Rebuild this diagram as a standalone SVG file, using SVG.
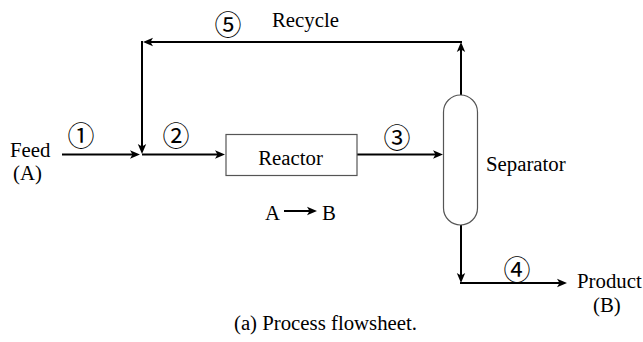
<svg xmlns="http://www.w3.org/2000/svg" width="643" height="342" viewBox="0 0 643 342">
<style>
.t{font-family:"Liberation Serif","Times New Roman",serif;font-size:20.8px;fill:#000}
.n{font-family:"Noto Sans CJK JP","DejaVu Sans",sans-serif;font-size:27px;fill:#000;text-anchor:middle;dominant-baseline:central}
.c{fill:none;stroke:#000;stroke-width:2}
.u{fill:#fff;stroke:#555;stroke-width:1.2}
</style>
<defs>
<marker id="ah" viewBox="0 0 10 10" refX="6" refY="5" markerWidth="10" markerHeight="10" markerUnits="userSpaceOnUse" orient="auto">
<path d="M0,0.8 L10,5 L0,9.2 L2.5,5 z" fill="#000"/>
</marker>
</defs>
<rect width="643" height="342" fill="#fff"/>
<g id="connectors">
<line class="c" x1="62" y1="154.5" x2="136" y2="154.5" marker-end="url(#ah)"/>
<line class="c" x1="142" y1="154.5" x2="221" y2="154.5" marker-end="url(#ah)"/>
<line class="c" x1="357" y1="154.5" x2="439" y2="154.5" marker-end="url(#ah)"/>
<line class="c" x1="461" y1="95" x2="461" y2="46" marker-end="url(#ah)"/>
<line class="c" x1="462" y1="42" x2="147" y2="42" marker-end="url(#ah)"/>
<line class="c" x1="142" y1="41" x2="142" y2="150" marker-end="url(#ah)"/>
<line class="c" x1="461" y1="225" x2="461" y2="279" marker-end="url(#ah)"/>
<line class="c" x1="460" y1="283" x2="563" y2="283" marker-end="url(#ah)"/>
</g>
<g id="feed">
<text class="t" x="10" y="157">Feed</text>
<text class="t" x="13" y="180">(A)</text>
</g>
<g id="reactor">
<rect class="u" x="226" y="134.5" width="131" height="41"/>
<text class="t" x="290.5" y="165" text-anchor="middle">Reactor</text>
</g>
<g id="reaction">
<text class="t" x="265" y="220">A</text>
<line class="c" x1="284" y1="211" x2="313" y2="211" marker-end="url(#ah)"/>
<text class="t" x="322" y="220">B</text>
</g>
<g id="separator">
<rect class="u" x="443.5" y="95" width="34" height="130" rx="17" ry="17"/>
<text class="t" x="486" y="170.5">Separator</text>
</g>
<g id="product">
<text class="t" x="577" y="288">Product</text>
<text class="t" x="593" y="312">(B)</text>
</g>
<g id="recycle">
<text class="t" x="272" y="27">Recycle</text>
</g>
<g id="labels">
<text class="n" x="81" y="134.5">①</text>
<text class="n" x="176" y="134.5">②</text>
<text class="n" x="397" y="136">③</text>
<text class="n" x="517" y="268">④</text>
<text class="n" x="228" y="23">⑤</text>
</g>
<g id="caption">
<text class="t" x="325.5" y="330" text-anchor="middle">(a) Process flowsheet.</text>
</g>
</svg>
